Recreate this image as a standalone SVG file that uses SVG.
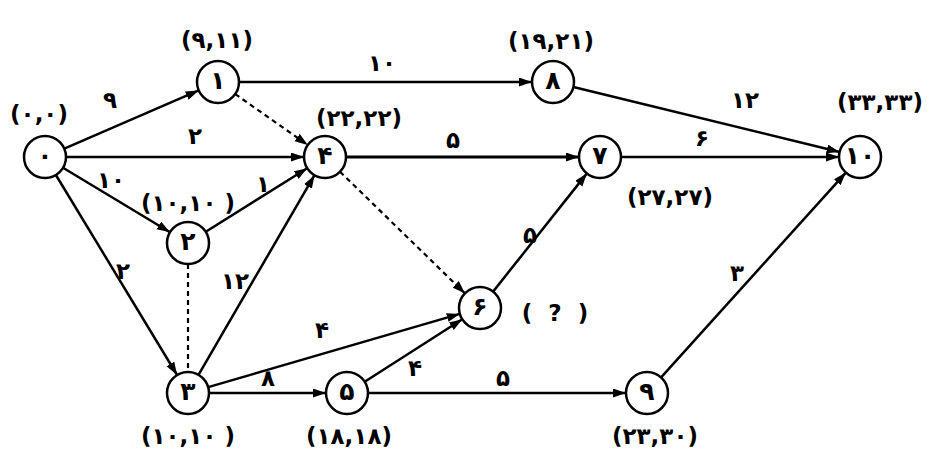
<svg xmlns="http://www.w3.org/2000/svg" width="932" height="450" viewBox="0 0 932 450">
<style>
.n{fill:#fff;stroke:#000;stroke-width:2.5}
.nt{font-family:"DejaVu Sans","Noto Sans",sans-serif;font-weight:bold;font-size:25px;text-anchor:middle;dominant-baseline:central}
.lb{font-family:"DejaVu Sans","Noto Sans",sans-serif;font-weight:bold;font-size:23px;text-anchor:middle;dominant-baseline:central}
.pl{letter-spacing:1px}
.e{stroke:#000;stroke-width:2.5;fill:none}
.a{marker-end:url(#ah)}
.d{stroke-dasharray:5,4;stroke-width:2.2}
</style>
<defs>
<marker id="ah" markerUnits="userSpaceOnUse" markerWidth="14" markerHeight="10" refX="13" refY="4.5" orient="auto">
<path d="M0,0 L13,4.5 L0,9 z" fill="#000"/>
</marker>
</defs>
<rect width="932" height="450" fill="#fff"/>
<g id="connectors">
<line class="e a" x1="64.3" y1="148.6" x2="198.7" y2="90.4"/>
<line class="e a" x1="66" y1="157" x2="304" y2="157"/>
<line class="e a" x1="63" y1="167.8" x2="170" y2="232.2"/>
<line class="e a" x1="55.9" y1="175" x2="177.1" y2="375"/>
<line class="e a" x1="239" y1="82" x2="532" y2="82"/>
<line class="e a d" x1="235.2" y1="94.1" x2="307.8" y2="145"/>
<line class="e a" x1="205.8" y1="231.8" x2="307.2" y2="168.2"/>
<line class="e d" x1="188" y1="264" x2="188" y2="372"/>
<line class="e a" x1="198.5" y1="374.8" x2="314.5" y2="175.2"/>
<line class="e a" x1="208.2" y1="387.1" x2="459.8" y2="313.9"/>
<line class="e a" x1="209" y1="393" x2="326" y2="393"/>
<line class="e a" x1="346" y1="157" x2="579" y2="157" style="stroke-width:3"/>
<line class="e a d" x1="340" y1="171.7" x2="465" y2="293.4"/>
<line class="e a" x1="364.7" y1="381.7" x2="462.3" y2="319.3"/>
<line class="e a" x1="368" y1="393" x2="626" y2="393"/>
<line class="e a" x1="493.1" y1="291.6" x2="586.9" y2="173.4"/>
<line class="e a" x1="621" y1="157" x2="839" y2="157"/>
<line class="e a" x1="573.4" y1="87" x2="839.6" y2="152"/>
<line class="e a" x1="661.1" y1="377.4" x2="845.9" y2="172.6"/>
<g id="edge-labels">
<text class="lb" x="110" y="100">۹</text>
<text class="lb" x="195" y="136">۲</text>
<text class="lb" x="111" y="180">۱۰</text>
<text class="lb" x="263" y="184">۱</text>
<text class="lb" x="123" y="271">۲</text>
<text class="lb" x="235" y="281">۱۲</text>
<text class="lb" x="382" y="63">۱۰</text>
<text class="lb" x="453" y="140">۵</text>
<text class="lb" x="745" y="100">۱۲</text>
<text class="lb" x="702" y="138">۶</text>
<text class="lb" x="530" y="235">۵</text>
<text class="lb" x="322" y="330">۴</text>
<text class="lb" x="415" y="368">۴</text>
<text class="lb" x="503" y="378">۵</text>
<text class="lb" x="268" y="378">۸</text>
<text class="lb" x="737" y="273">۳</text>
</g>
</g>
<g id="node0"><circle class="n" cx="45" cy="157" r="21"/><text class="nt" x="45" y="155">۰</text><text class="lb pl" x="39" y="114">(۰,۰)</text></g>
<g id="node1"><circle class="n" cx="218" cy="82" r="21"/><text class="nt" x="218" y="80">۱</text><text class="lb pl" x="217" y="40">(۹,۱۱)</text></g>
<g id="node2"><circle class="n" cx="188" cy="243" r="21"/><text class="nt" x="188" y="241">۲</text><text class="lb pl" x="188" y="203">(۱۰,۱۰ )</text></g>
<g id="node3"><circle class="n" cx="188" cy="393" r="21"/><text class="nt" x="188" y="391">۳</text><text class="lb pl" x="188" y="436">(۱۰,۱۰ )</text></g>
<g id="node4"><circle class="n" cx="325" cy="157" r="21"/><text class="nt" x="325" y="155">۴</text><text class="lb pl" x="359" y="118">(۲۲,۲۲)</text></g>
<g id="node5"><circle class="n" cx="347" cy="393" r="21"/><text class="nt" x="347" y="391">۵</text><text class="lb pl" x="349" y="436">(۱۸,۱۸)</text></g>
<g id="node6"><circle class="n" cx="480" cy="308" r="21"/><text class="nt" x="480" y="306">۶</text><text class="lb" x="555" y="313" xml:space="preserve">(  ?  )</text></g>
<g id="node7"><circle class="n" cx="600" cy="157" r="21"/><text class="nt" x="600" y="155">۷</text><text class="lb pl" x="670" y="197">(۲۷,۲۷)</text></g>
<g id="node8"><circle class="n" cx="553" cy="82" r="21"/><text class="nt" x="553" y="80">۸</text><text class="lb pl" x="551" y="41">(۱۹,۲۱)</text></g>
<g id="node9"><circle class="n" cx="647" cy="393" r="21"/><text class="nt" x="647" y="391">۹</text><text class="lb pl" x="655" y="436">(۲۳,۳۰)</text></g>
<g id="node10"><circle class="n" cx="860" cy="157" r="21"/><text class="nt" x="860" y="155">۱۰</text><text class="lb pl" x="880" y="102">(۳۳,۳۳)</text></g>
</svg>
